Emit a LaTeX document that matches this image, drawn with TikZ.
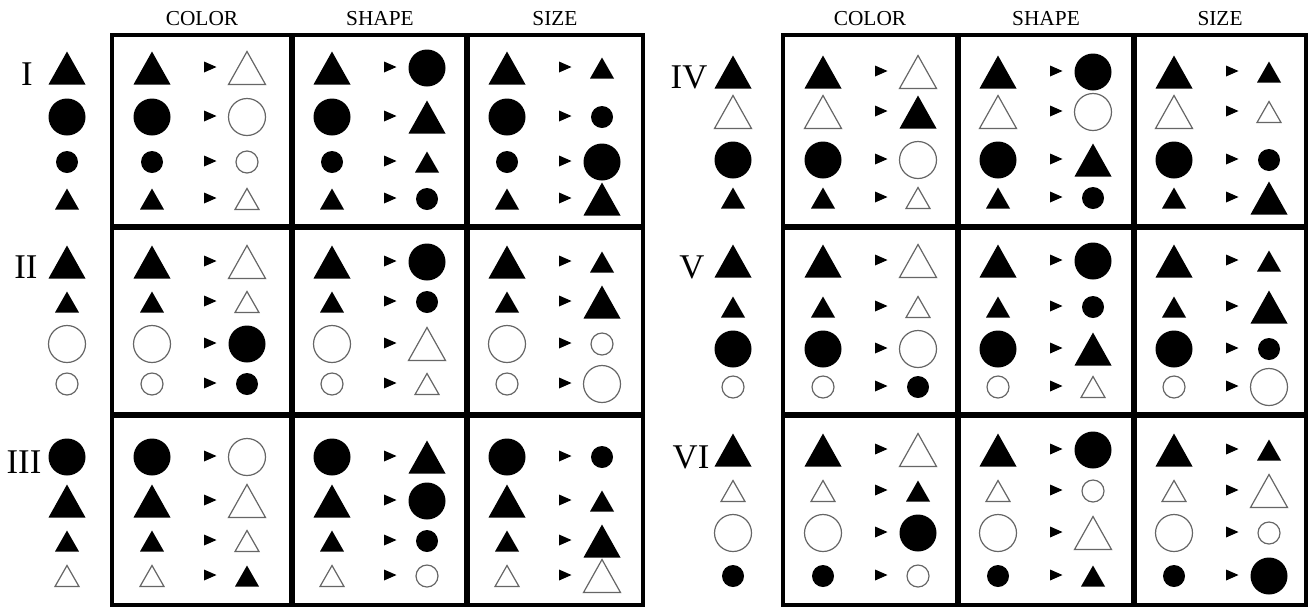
\documentclass[tikz,border=0pt]{standalone}
\usepackage{fontspec}
\setmainfont{Liberation Serif}

% shapes at (x,y), one unit = one pixel, y pointing down
\newcommand{\trig}[5]{\path[#1] (#2-#4,#3+#5) -- (#2,#3-#5) -- (#2+#4,#3+#5) -- cycle;}
\newcommand{\disc}[4]{\path[#1] (#2,#3) circle[radius=#4];}
\newcommand{\tBF}[2]{\trig{solidshape}{#1}{#2}{18.5}{16.5}}
\newcommand{\tBO}[2]{\trig{openshape}{#1}{#2}{18.5}{16.5}}
\newcommand{\tSF}[2]{\trig{solidshape}{#1}{#2}{12}{10.5}}
\newcommand{\tSO}[2]{\trig{openshape}{#1}{#2}{12}{10.5}}
\newcommand{\cBF}[2]{\disc{solidshape}{#1}{#2}{18.5}}
\newcommand{\cBO}[2]{\disc{openshape}{#1}{#2}{18.5}}
\newcommand{\cSF}[2]{\disc{solidshape}{#1}{#2}{11}}
\newcommand{\cSO}[2]{\disc{openshape}{#1}{#2}{11}}
\newcommand{\pointer}[2]{\fill (#1-6,#2-5.5) -- (#1+6.5,#2) -- (#1-6,#2+5.5) -- cycle;}
% one line of a cell: source, pointer, target
\newcommand{\cellpair}[4]{\csname#3\endcsname{#1+40}{#2}\pointer{#1+98}{#2-1}\csname#4\endcsname{#1+135}{#2}}

\begin{document}
\begin{tikzpicture}[x=0.75pt, y=-0.75pt,
    solidshape/.style={fill=black},
    openshape/.style={draw=black!60, line width=0.9pt, fill=white},
    frame/.style={line width=3pt},
    divider/.style={line width=4pt},
    head/.style={font=\fontsize{16}{18}\selectfont},
    roman/.style={font=\fontsize{26}{30}\selectfont}]
    \useasboundingbox (0,0) rectangle (1308,608);
    % Column heads
    \node[head] (colorL) at (202,19) {COLOR};
    \node[head] (shapeL) at (380,19) {SHAPE};
    \node[head] (sizeL)  at (555,19) {SIZE};
    \node[head] (colorR) at (870,19) {COLOR};
    \node[head] (shapeR) at (1046,19) {SHAPE};
    \node[head] (sizeR)  at (1220,19) {SIZE};
    % Frames
    \draw[frame] (112,35) rectangle (643,605);
    \draw[divider] (292,35) -- (292,605) (467,35) -- (467,605)
        (112,227) -- (643,227) (112,415) -- (643,415);
    \draw[frame] (783,35) rectangle (1306,605);
    \draw[divider] (958,35) -- (958,605) (1134,35) -- (1134,605)
        (783,227) -- (1306,227) (783,415) -- (1306,415);
    % Row labels
    \node[roman] (rowI)   at (27,74)   {I};
    \node[roman] (rowII)  at (26,267)  {II};
    \node[roman] (rowIII) at (24,462)  {III};
    \node[roman] (rowIV)  at (689,77)  {IV};
    \node[roman] (rowV)   at (692,267) {V};
    \node[roman] (rowVI)  at (691,457) {VI};
    % Rows: y / stimulus / color / shape / size
    \foreach \y/\src/\tcol/\tshp/\tsiz in {68/tBF/tBO/cBF/tSF, 117/cBF/cBO/tBF/cSF,
        162/cSF/cSO/tSF/cBF, 199/tSF/tSO/cSF/tBF,
        262/tBF/tBO/cBF/tSF, 302/tSF/tSO/cSF/tBF, 344/cBO/cBF/tBO/cSO, 384/cSO/cSF/tSO/cBO,
        457/cBF/cBO/tBF/cSF, 501/tBF/tBO/cBF/tSF, 541/tSF/tSO/cSF/tBF, 576/tSO/tSF/cSO/tBO}
      {\csname\src\endcsname{67}{\y}
       \cellpair{112}{\y}{\src}{\tcol}\cellpair{292}{\y}{\src}{\tshp}\cellpair{467}{\y}{\src}{\tsiz}}
    \foreach \y/\src/\tcol/\tshp/\tsiz in {72/tBF/tBO/cBF/tSF, 112/tBO/tBF/cBO/tSO,
        160/cBF/cBO/tBF/cSF, 198/tSF/tSO/cSF/tBF,
        261/tBF/tBO/cBF/tSF, 307/tSF/tSO/cSF/tBF, 349/cBF/cBO/tBF/cSF, 387/cSO/cSF/tSO/cBO,
        450/tBF/tBO/cBF/tSF, 491/tSO/tSF/cSO/tBO, 533/cBO/cBF/tBO/cSO, 576/cSF/cSO/tSF/cBF}
      {\csname\src\endcsname{733}{\y}
       \cellpair{783}{\y}{\src}{\tcol}\cellpair{958}{\y}{\src}{\tshp}\cellpair{1134}{\y}{\src}{\tsiz}}
\end{tikzpicture}
\end{document}
